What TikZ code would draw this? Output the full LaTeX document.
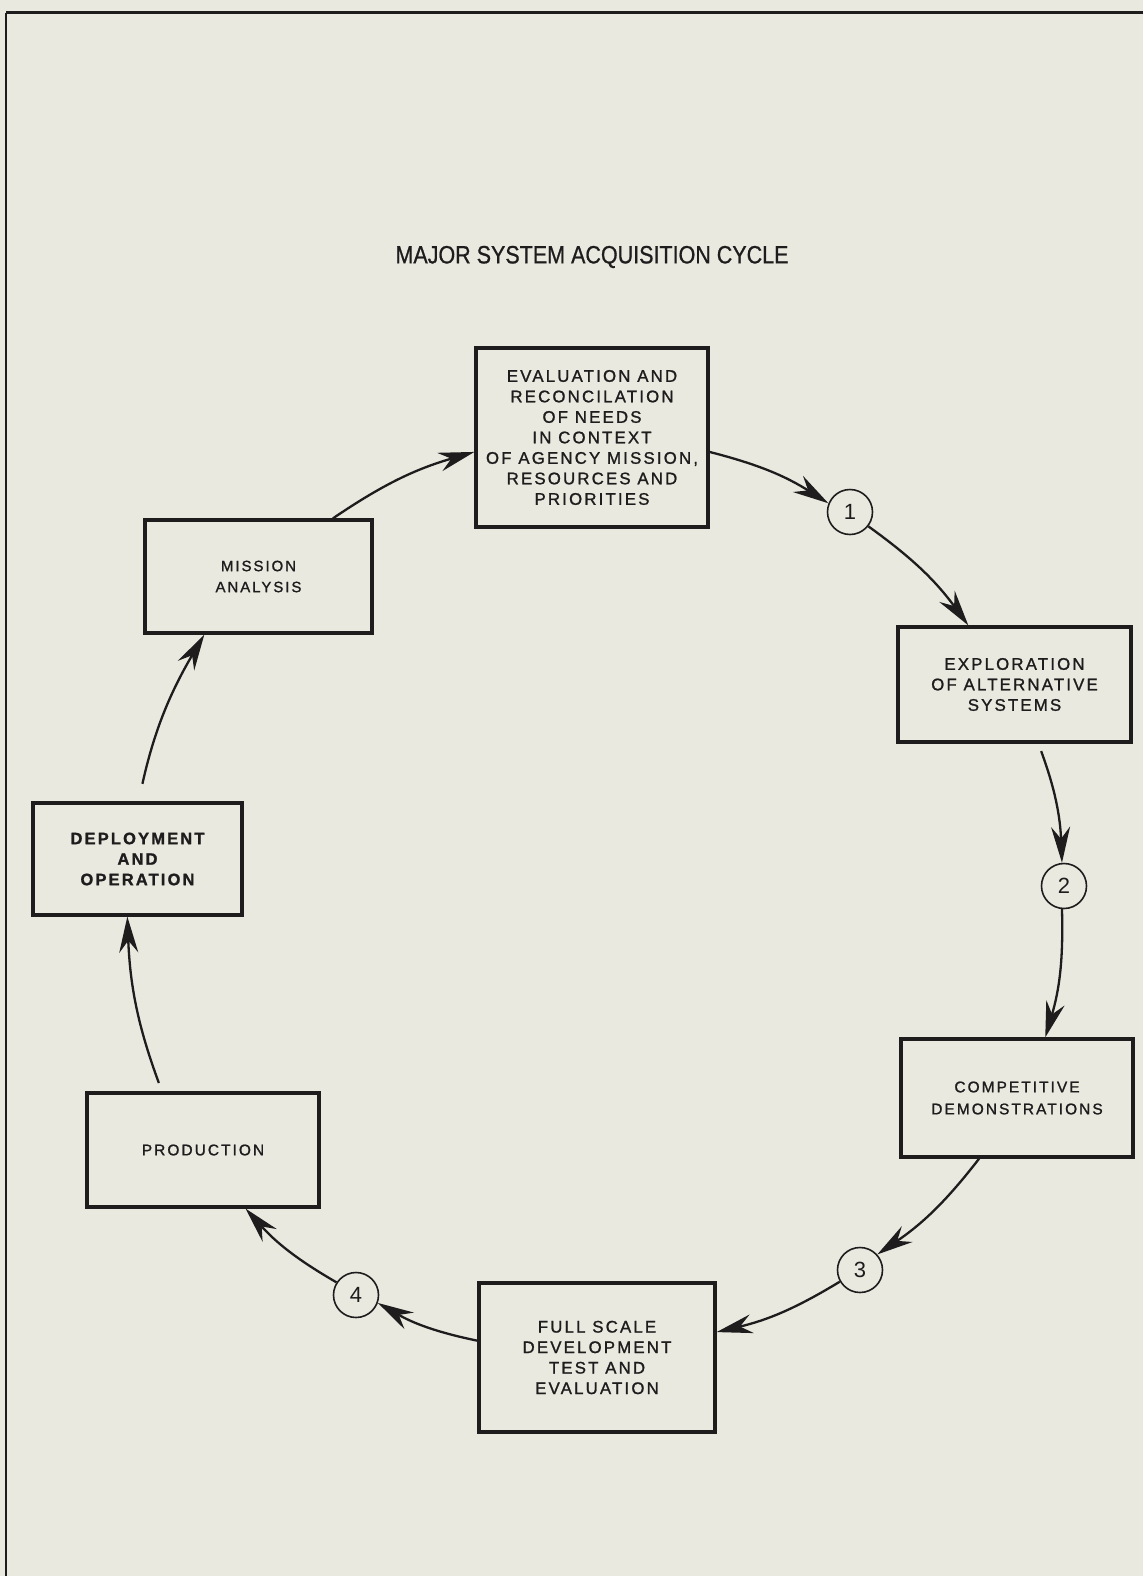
\documentclass[tikz,border=0pt]{standalone}
\usepackage{fontspec}
\setmainfont{Liberation Sans}
\newfontfamily\stencil[LetterSpace=13,FakeBold=1.2]{Liberation Sans}
\newfontfamily\heading[FakeBold=0.8]{Liberation Sans}
\usetikzlibrary{arrows.meta}
\definecolor{paper}{RGB}{233,233,224}
\definecolor{ink}{RGB}{30,28,28}

\tikzset{
  stage/.style={draw=ink, line width=3.2pt, align=center, inner sep=0pt, text=ink,
    font=\stencil\fontsize{16.8}{20.5}\selectfont},
  marker/.style={circle, draw=ink, line width=1.6pt, minimum size=45pt, inner sep=0pt,
    text=ink, font=\fontsize{22}{22}\selectfont},
  flow/.style={draw=ink, line width=2.3pt,
    -{Stealth[length=36pt,width=19pt,inset=12pt]}, bend left=9},
}

\begin{document}
\begin{tikzpicture}[x=1pt,y=-1pt]
  \fill[paper] (0,0) rectangle (1143,1576);
  \useasboundingbox (0,0) rectangle (1143,1576);

  % page frame
  \draw[ink, line width=3pt] (1143,13) -- (6,13);
  \draw[ink, line width=2.2pt] (6,13) -- (6,1576);

  % heading
  \node[text=ink, font=\heading\fontsize{25}{25}\selectfont, xscale=0.86] (title) at (592,257)
    {MAJOR SYSTEM ACQUISITION CYCLE};

  % stages of the cycle
  \node[stage, minimum width=232pt, minimum height=179pt] (eval) at (592,437.5)
    {EVALUATION AND\\RECONCILATION\\OF NEEDS\\IN CONTEXT\\OF AGENCY MISSION,\\RESOURCES AND\\PRIORITIES};
  \node[stage, minimum width=233pt, minimum height=115pt] (expl) at (1014.5,684.5)
    {EXPLORATION\\OF ALTERNATIVE\\SYSTEMS};
  \node[stage, minimum width=232pt, minimum height=118pt,
    font=\stencil\fontsize{15.5}{22}\selectfont] (comp) at (1017,1098)
    {COMPETITIVE\\DEMONSTRATIONS};
  \node[stage, minimum width=236pt, minimum height=149pt] (full) at (597,1357.5)
    {FULL SCALE\\DEVELOPMENT\\TEST AND\\EVALUATION};
  \node[stage, minimum width=232pt, minimum height=114pt,
    font=\stencil\fontsize{15.5}{20}\selectfont] (prod) at (203,1150)
    {PRODUCTION};
  \node[stage, minimum width=209pt, minimum height=112pt,
    font=\stencil\bfseries\fontsize{16.5}{20.5}\selectfont] (deploy) at (137.5,859)
    {DEPLOYMENT\\AND\\OPERATION};
  \node[stage, minimum width=227pt, minimum height=113pt,
    font=\stencil\fontsize{15}{21}\selectfont] (mission) at (258.5,576.5)
    {MISSION\\ANALYSIS};

  % numbered milestones
  \node[marker] (m1) at (850,512) {1};
  \node[marker] (m2) at (1064,886) {2};
  \node[marker] (m3) at (860,1270) {3};
  \node[marker] (m4) at (356,1295) {4};

  % flow around the cycle
  \draw[flow] (mission.38) to (eval.187);
  \draw[flow] (eval.-7) to (m1.158);
  \draw[flow] (m1.-38) to (expl.128);
  \draw[flow, shorten <=8pt] (expl.-68) to (m2.95);
  \draw[flow] (m2.-95) to (comp.65);
  \draw[flow] (comp.-122) to (m3.42);
  \draw[flow] (m3.210) to (full.12);
  \draw[flow] (full.172) to (m4.-20);
  \draw[flow] (m4.147) to (prod.-54);
  \draw[flow, shorten <=9pt] (prod.125) to (deploy.-100);
  \draw[flow, shorten <=18pt] (deploy.89) to (mission.-133);
\end{tikzpicture}
\end{document}
